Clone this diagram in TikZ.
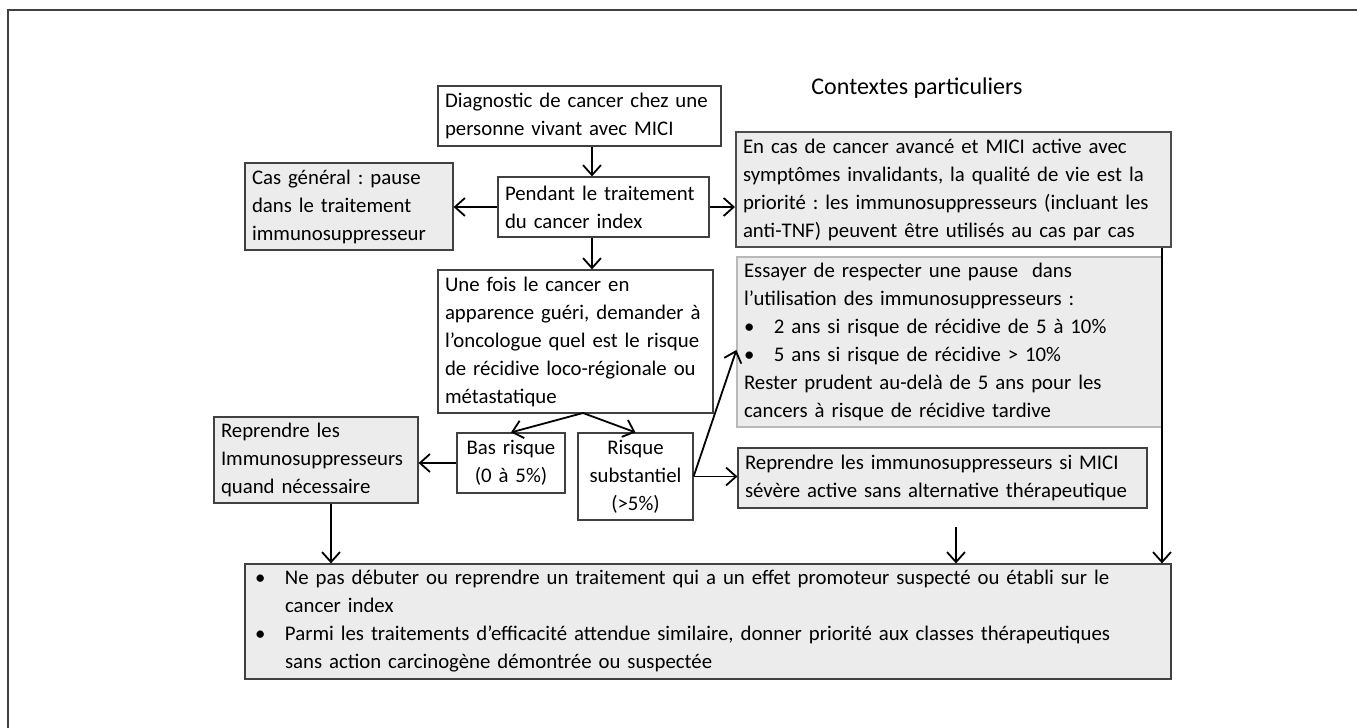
\documentclass[tikz,border=0pt]{standalone}
\usepackage{fontspec}
\setmainfont{Carlito}
\usepackage{tikz}
\usetikzlibrary{positioning, arrows.meta}
\frenchspacing

\newcommand{\puce}{\makebox[15pt][l]{•}}

\begin{document}
\begin{tikzpicture}[x=0.5pt, y=-0.5pt,
    boite/.style={draw=black!75, rectangle, line width=0.6pt, inner xsep=3.5pt, inner ysep=0pt, align=left, font=\fontsize{10.4}{14}\selectfont},
    grise/.style={boite, fill=gray!15},
    fleche/.style={-{Straight Barb[length=5pt, width=9pt]}, line width=0.9pt}]

    \useasboundingbox (0,0) rectangle (1357,728);
    \draw[line width=1pt, black!75] (8,728) -- (8,10) -- (1357,10);

    % colonne centrale
    \node[boite, minimum width=141.5pt, minimum height=30pt, text width=134.5pt] (diag) at (579.5,116) {Diagnostic de cancer chez une\\personne vivant avec MICI};
    \node[boite, minimum width=105.5pt, minimum height=30pt, text width=98.5pt] (pendant) at (603.5,207) {Pendant le traitement\\du cancer index};
    \node[grise, minimum width=104pt, minimum height=43.5pt, text width=97pt] (general) at (349,206.5) {Cas général : pause\\dans le traitement\\immunosuppresseur};
    \node[boite, minimum width=137.5pt, minimum height=71.5pt, text width=130.5pt] (unefois) at (575.5,341.5) {Une fois le cancer en\\apparence guéri, demander à\\l’oncologue quel est le risque\\de récidive loco-régionale ou\\métastatique};
    \node[boite, align=center, minimum width=54pt, minimum height=30pt, text width=47pt] (bas) at (511,463) {Bas risque\\(0 à 5\%)};
    \node[boite, align=center, minimum width=57.5pt, minimum height=43.5pt, text width=50.5pt] (subst) at (635.5,476.5) {Risque\\substantiel\\(>5\%)};
    \node[grise, minimum width=102pt, minimum height=43pt, text width=95pt] (reprendre) at (316,460) {Reprendre les\\Immunosuppresseurs\\quand nécessaire};

    % contextes particuliers
    \node[font=\fontsize{12}{14}\selectfont] (titre) at (917,88) {Contextes particuliers};
    \node[grise, line width=1pt, draw=black!70, minimum width=217.5pt, minimum height=57.5pt, text width=210.5pt] (avance) at (953.5,189.5) {En cas de cancer avancé et MICI active avec\\symptômes invalidants, la qualité de vie est la\\priorité : les immunosuppresseurs (incluant les\\anti-TNF) peuvent être utilisés au cas par cas};
    \node[grise, draw=gray!55, minimum width=212.5pt, minimum height=85pt, text width=205.5pt] (pause) at (949.5,342) {Essayer de respecter une pause~ dans\\l’utilisation des immunosuppresseurs :\\\puce 2 ans si risque de récidive de 5 à 10\%\\\puce 5 ans si risque de récidive > 10\%\\Rester prudent au-delà de 5 ans pour les\\cancers à risque de récidive tardive};
    \node[grise, minimum width=204.5pt, minimum height=30pt, text width=197.5pt] (reprise) at (942.5,478) {Reprendre les immunosuppresseurs si MICI\\sévère active sans alternative thérapeutique};

    % conclusion
    \node[grise, inner xsep=5pt, minimum width=463pt, minimum height=57.5pt, text width=453pt] (final) at (708,621.5) {\puce Ne pas débuter ou reprendre un traitement qui a un effet promoteur suspecté ou établi sur le\\\hspace*{15pt}cancer index\\\puce Parmi les traitements d’efficacité attendue similaire, donner priorité aux classes thérapeutiques\\\hspace*{15pt}sans action carcinogène démontrée ou suspectée};

    \coordinate (axe) at (592,0);
    \coordinate (fourche) at (583,413);
    \coordinate (descente) at (331,0);
    \coordinate (libre) at (956,527);
    \coordinate (cote) at (1162,0);

    \draw[fleche] (diag.south -| axe) -- (pendant.north -| axe);
    \draw[fleche] (pendant.south -| axe) -- (unefois.north -| axe);
    \draw[fleche] (pendant.west) -- (pendant.west -| general.east);
    \draw[fleche] (pendant.east) -- (pendant.east -| avance.west);
    \draw[fleche] (fourche) -- (bas.north);
    \draw[fleche] (fourche) -- (subst.north);
    \draw[fleche] (bas.west) -- (bas.west -| reprendre.east);
    \draw[fleche] (subst.east) -- (subst.east -| reprise.west);
    \draw[fleche] (subst.east) -- ([yshift=-4pt]pause.west);
    \draw[fleche] (reprendre.south -| descente) -- (final.north -| descente);
    \draw[fleche] (libre) -- (libre |- final.north);
    \draw[fleche] (avance.south -| cote) -- (final.north -| cote);
\end{tikzpicture}
\end{document}
